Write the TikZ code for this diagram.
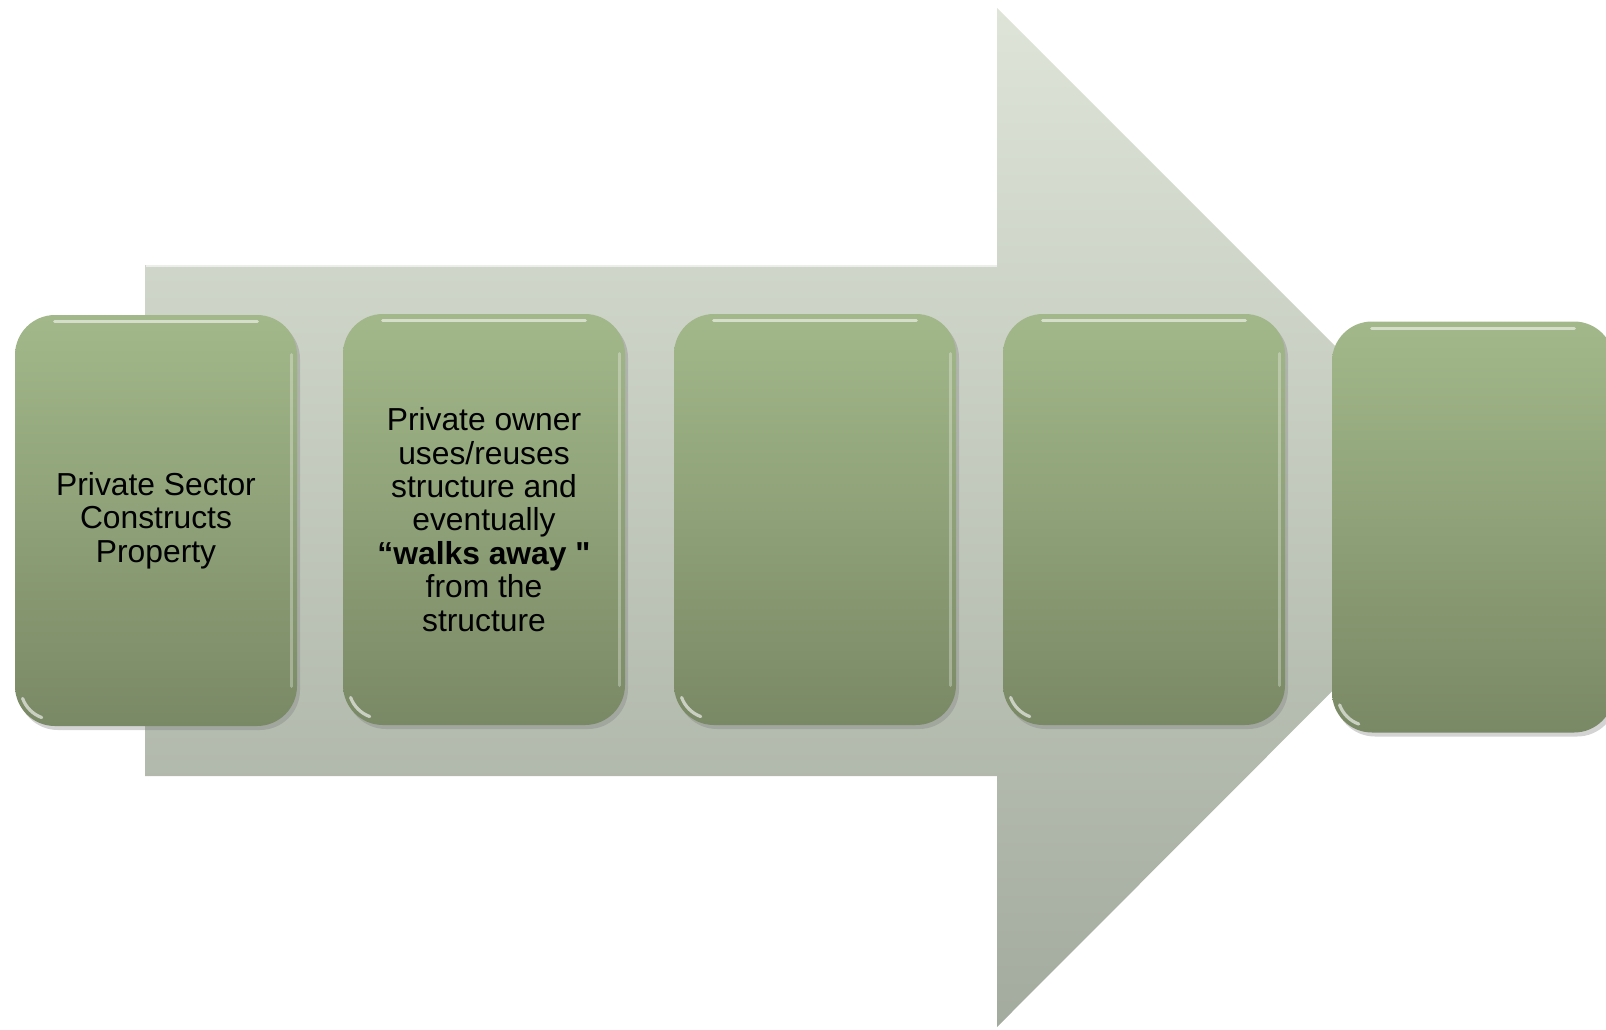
\documentclass[tikz,border=0pt]{standalone}
\usepackage{fontspec}
\setmainfont{Liberation Sans}[Ligatures=TeXOff]
\usetikzlibrary{shadows}
\definecolor{boxtop}{RGB}{162,184,138}
\definecolor{boxbot}{RGB}{122,137,101}
\definecolor{arrtop}{RGB}{222,228,216}
\definecolor{arrbot}{RGB}{163,171,158}
\tikzset{
  stagebox/.style={draw=none, rounded corners=20pt, minimum width=141pt, minimum height=205.5pt,
    top color=boxtop, bottom color=boxbot, align=center,
    font=\fontsize{15.9pt}{16.7pt}\selectfont, inner sep=0pt,
    drop shadow={shadow xshift=1.5pt, shadow yshift=-2pt, opacity=0.35}},
  gloss/.style={draw=white, opacity=0.55, line width=1.6pt, line cap=round},
  bigarrow/.style={draw=none, top color=arrtop, bottom color=arrbot}
}
\begin{document}
\begin{tikzpicture}[x=0.5pt, y=-0.5pt]
\useasboundingbox (0,0) rectangle (1606,1029);
\clip (0,0) rectangle (1606,1029);
% big arrow
\path[bigarrow] (145,265) -- (997,265) -- (997,8) -- (1506,517) -- (997,1027) -- (997,776) -- (145,776) -- cycle;
\draw[white, opacity=0.6, line width=1.2pt] (146,266) -- (997,266);
% stage boxes
\node[stagebox] (b1) at (156,520.5) {Private Sector\\Constructs\\Property};
\node[stagebox] (b2) at (484,519.5) {Private owner\\uses/reuses\\structure and\\eventually\\\textbf{“walks away "}\\from the\\structure};
\node[stagebox] (b3) at (815,519.5) {};
\node[stagebox] (b4) at (1144,519.5) {};
\node[stagebox] (b5) at (1473,527) {};
\foreach \b in {b1,b2,b3,b4,b5}{
  \draw[gloss] ([xshift=20pt,yshift=-3.5pt]\b.north west) -- ([xshift=-20pt,yshift=-3.5pt]\b.north east);
  \draw[gloss, opacity=0.3] ([xshift=-3pt,yshift=-20pt]\b.north east) -- ([xshift=-3pt,yshift=20pt]\b.south east);
  \draw[gloss, opacity=0.6] ([xshift=4pt,yshift=14pt]\b.south west) arc[start angle=200, end angle=250, radius=16pt];
}
\end{tikzpicture}
\end{document}
